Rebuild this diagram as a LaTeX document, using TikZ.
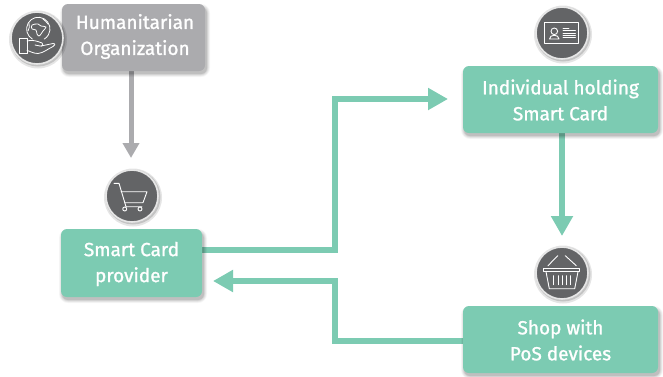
\documentclass[tikz,border=0pt]{standalone}
\usepackage{fontspec}
\setmainfont[FakeBold=1.2]{Fira Sans}
\usetikzlibrary{arrows.meta,calc}
\definecolor{mint}{HTML}{7CCBB2}
\definecolor{boxgray}{HTML}{ABABAE}
\definecolor{disc}{HTML}{636466}
\definecolor{ring}{HTML}{E6E6E6}
\newcommand{\softshadow}[3]{%
  \foreach \g/\op in {3/0.04,2/0.06,1/0.08,0/0.10}{
    \fill[black,opacity=\op,rounded corners=#3+\g] ($(#1)+(-\g,-\g)+(1,3)$) rectangle ($(#2)+(\g,\g)+(2,3)$);
  }}
\tikzset{
  x=1pt,y=-1pt,
  lbl/.style={text=white,font=\fontsize{19}{26}\selectfont,align=center,inner sep=0pt,anchor=center},
  flow/.style={line width=5.6pt,draw=mint,-{Triangle[length=20pt,width=21pt]},line join=miter},
  flowgray/.style={line width=5pt,draw=boxgray,-{Triangle[length=15pt,width=16pt]}},
  disc node/.style={circle,fill=disc,draw=ring,line width=1.6pt,minimum size=52pt,inner sep=0pt},
  icon/.style={draw=white,line width=0.9pt,line cap=round,line join=round},
}
\begin{document}
\begin{tikzpicture}
\useasboundingbox (0,0) rectangle (663,376);
\coordinate (hA) at (62,4);   \coordinate (hB) at (205,71);
\coordinate (sA) at (61,229); \coordinate (sB) at (202,297);
\coordinate (iA) at (463,66); \coordinate (iB) at (658,133);
\coordinate (pA) at (463,306);\coordinate (pB) at (658,373);
\coordinate (hTip) at (131,158);
\coordinate (iTip) at (448,99);
\coordinate (pTip) at (562,236);
\coordinate (sTip) at (213,281);
\coordinate (sOut) at (202,250);
\coordinate (pOut) at (463,341);
\coordinate (hOut) at (131,71);
\coordinate (iOut) at (562,133);
\draw[flowgray] (hOut) -- (hTip);
\draw[flow] (sOut) -- (335,250) -- (335,99) -- (iTip);
\draw[flow] (iOut) -- (pTip);
\draw[flow] (pOut) -- (335,341) -- (335,281) -- (sTip);
\softshadow{hA}{hB}{6}
\softshadow{sA}{sB}{6}
\softshadow{iA}{iB}{6}
\softshadow{pA}{pB}{6}
\fill[boxgray,rounded corners=6pt] (hA) rectangle (hB);
\fill[mint,rounded corners=6pt] (sA) rectangle (sB);
\fill[mint,rounded corners=6pt] (iA) rectangle (iB);
\fill[mint,rounded corners=6pt] (pA) rectangle (pB);
\node[lbl] (hum) at (135,36.5) {Humanitarian\\Organization};
\node[lbl] (smart) at (131.5,264) {Smart Card\\provider};
\node[lbl] (ind) at (560.5,100) {Individual holding\\Smart Card};
\node[lbl] (shop) at (560.5,340) {Shop with\\PoS devices};
\foreach \c in {(37,38),(132,196),(562,33),(562,273)}{
  \fill[black,opacity=.10] \c ++(1,1.5) circle (29);
  \fill[black,opacity=.15] \c ++(1,1) circle (27.5);
}
\node[disc node] (d1) at (37,38) {};
\node[disc node] (d2) at (132,196) {};
\node[disc node] (d3) at (562,33) {};
\node[disc node] (d4) at (562,273) {};
% globe and hand
\begin{scope}[shift={(d1.center)},icon,line width=0.8pt]
  \draw (-4.55,1.1) arc[start angle=120,end angle=420,radius=11.7];
  \draw plot[smooth cycle,tension=0.6] coordinates {(-5,-13) (1,-14) (4,-12) (9,-11) (6,-7) (4,-4) (2,-2) (0,-4) (-1,-8) (-5,-9)};
  \draw (-8,-15) .. controls (-7,-12) and (-8,-9) .. (-9,-7);
  \draw (6,-19) .. controls (8,-17) and (10,-16) .. (11,-14);
  \draw (-18,0) rectangle (-10,15);
  \draw (-10,3) .. controls (-5,1.5) and (0,3) .. (5,5) .. controls (7,6) and (6,8.5) .. (3,8) -- (-2,7);
  \draw (4,8) -- (16,5.5) .. controls (19,5.5) and (18,7.5) .. (16,8.5) .. controls (10,11.5) and (6,15) .. (1,15.5) .. controls (-4,15.5) and (-7,13) .. (-10,12.5);
\end{scope}
\begin{scope}[shift={(d2.center)},icon]
  \draw (-18,-12.7) -- (-13,-12.7) -- (-6,10.7) -- (10,10.7);
  \draw (-11,-4.3) -- (15,-4.3) -- (11,6.7) -- (-7.5,6.7);
  \draw (-7.3,13) circle (2);
  \draw (8,13) circle (2);
\end{scope}
\begin{scope}[shift={(d3.center)},icon]
  \draw (-17.3,-11) rectangle (16.7,10);
  \draw (-7.7,-1.7) circle (3.3);
  \draw (-12.5,6) .. controls (-12.5,1) and (-3,1) .. (-3,6) -- cycle;
  \foreach \y/\e in {-5/7,-2.7/13.3,0/13.3,2.3/13.3,4.3/13.3}{\draw (1,\y) -- (\e,\y);}
\end{scope}
\begin{scope}[shift={(d4.center)},icon]
  \draw (-14,-7.3) -- (-4.3,-17.3);
  \draw (14.3,-7.3) -- (3.3,-17.3);
  \draw (-18.3,-4.3) rectangle (17,-1.3);
  \draw (-16,-1.3) -- (-12.7,15.7) -- (12.7,15.7) -- (16,-1.3);
  \foreach \x in {-8.3,-4,0,4.3,8.3}{\draw (\x,2.7) -- (\x,11.7);}
\end{scope}
\end{tikzpicture}
\end{document}
